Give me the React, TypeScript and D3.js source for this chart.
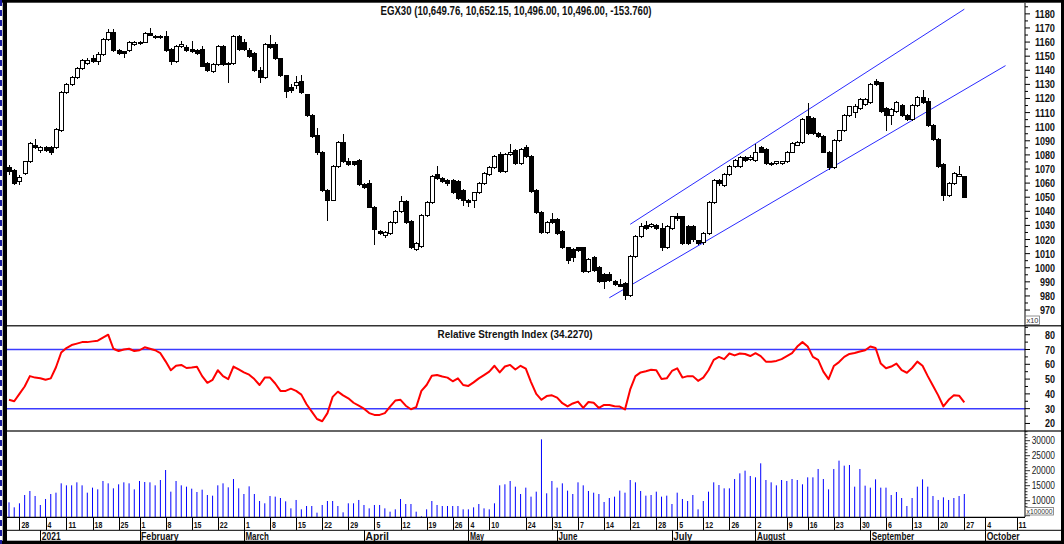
import React from "react";
import * as d3 from "d3";

// ---- Price data (index level / 10) ----
const openP = [1071,1069,1061,1067,1075,1087,1083,1085,1085,1085,1097,1124,1130,1135,1141,1145,1148,1146,1151,1162,1167,1154,1153,1154,1158,1159,1160,1166,1164,1164,1164,1155,1146,1157,1156,1155,1154,1155,1145,1139,1144,1157,1145,1145,1164,1160,1154,1152,1140,1135,1158,1158,1148,1136,1128,1129,1132,1123,1108,1094,1082,1055,1048,1072,1089,1075,1075,1076,1059,1060,1043,1026,1023,1024,1032,1040,1047,1033,1013,1015,1037,1046,1066,1063,1062,1062,1061,1055,1048,1048,1053,1060,1066,1071,1080,1068,1080,1083,1074,1085,1079,1055,1039,1025,1034,1034,1026,1014,1013,1014,1014,997,1007,1000,995,995,990,988,989,980,1008,1022,1030,1029,1030,1028,1014,1028,1036,1036,1029,1029,1019,1018,1024,1046,1062,1058,1066,1072,1072,1078,1077,1076,1085,1084,1074,1074,1074,1075,1082,1087,1089,1107,1106,1095,1093,1082,1071,1090,1097,1108,1110,1113,1116,1117,1132,1131,1113,1108,1111,1115,1108,1105,1115,1121,1118,1101,1091,1073,1051,1060,1065,1064.98];
const highP = [1073,1070,1066,1076,1089,1091,1086,1086,1086,1099,1125,1131,1136,1142,1148,1149,1151,1153,1163,1169,1169,1155,1154,1161,1161,1161,1167,1170,1165,1165,1168,1156,1158,1161,1158,1161,1155,1157,1146,1145,1158,1158,1146,1165,1165,1162,1156,1153,1142,1159,1165,1160,1149,1137,1130,1136,1137,1123,1109,1099,1083,1056,1073,1090,1095,1078,1076,1077,1060,1062,1044,1027,1026,1033,1041,1051,1048,1034,1018,1038,1047,1066,1072,1064,1063,1063,1062,1056,1049,1054,1061,1068,1072,1080,1082,1081,1088,1084,1085,1087,1080,1056,1040,1033,1039,1035,1027,1015,1014,1015,1015,1007,1008,1001,996,997,991,992,990,1009,1023,1032,1033,1032,1031,1032,1030,1037,1039,1037,1030,1030,1020,1025,1047,1063,1063,1067,1073,1077,1079,1079,1080,1088,1086,1085,1075,1076,1076,1083,1089,1090,1106,1117,1107,1096,1094,1083,1091,1098,1109,1115,1116,1120,1120,1131,1134,1132,1114,1113,1118,1116,1109,1116,1122,1126,1120,1102,1092,1074,1061,1068,1072,1065.22];
const lowP = [1066,1059,1059,1066,1074,1084,1081,1082,1080,1084,1096,1123,1129,1134,1140,1144,1145,1144,1150,1161,1153,1151,1149,1153,1157,1158,1159,1164,1162,1162,1153,1144,1145,1156,1153,1152,1151,1142,1139,1138,1143,1143,1131,1144,1154,1154,1149,1139,1131,1134,1155,1147,1135,1120,1124,1127,1123,1107,1092,1080,1054,1033,1047,1071,1074,1072,1072,1058,1056,1042,1016,1023,1021,1023,1031,1039,1031,1013,1012,1014,1036,1045,1062,1060,1058,1052,1048,1044,1043,1042,1052,1059,1065,1070,1067,1067,1079,1073,1073,1078,1053,1038,1024,1024,1031,1023,1013,1003,1004,1011,996,996,997,989,985,990,987,986,977,979,1007,1021,1027,1028,1027,1012,1013,1027,1033,1016,1016,1018,1016,1016,1023,1045,1058,1057,1065,1071,1071,1075,1076,1075,1081,1073,1072,1073,1073,1074,1081,1086,1088,1094,1094,1092,1081,1069,1070,1089,1096,1107,1106,1112,1115,1116,1129,1110,1097,1101,1110,1107,1104,1104,1114,1116,1100,1090,1071,1047,1050,1059,1064,1049.6];
const closeP = [1068,1060,1064,1075,1088,1085,1085,1083,1082,1098,1124,1130,1135,1141,1147,1147,1146,1151,1162,1167,1154,1152,1152,1160,1160,1160,1166,1165,1163,1163,1154,1146,1157,1158,1154,1153,1152,1143,1140,1144,1157,1144,1144,1164,1155,1155,1150,1140,1135,1158,1156,1148,1136,1125,1126,1131,1124,1108,1093,1082,1055,1048,1072,1089,1075,1073,1073,1059,1057,1043,1027,1024,1025,1032,1040,1047,1032,1014,1017,1037,1046,1065,1063,1061,1060,1053,1049,1048,1046,1053,1060,1067,1071,1079,1068,1080,1082,1074,1084,1079,1054,1039,1025,1032,1032,1024,1014,1005,1007,1012,997,1006,998,990,990,991,988,987,980,1008,1022,1029,1028,1031,1028,1014,1029,1036,1035,1017,1017,1020,1017,1024,1046,1062,1060,1066,1072,1076,1078,1076,1078,1082,1082,1074,1073,1075,1075,1082,1088,1089,1105,1095,1095,1093,1082,1071,1090,1097,1108,1114,1114,1119,1119,1130,1130,1111,1108,1112,1117,1108,1105,1115,1121,1117,1101,1091,1072,1051,1060,1067,1066,1049.6];

// ---- RSI (14) ----
const rsi = [36,35,40,45,52,51,50.6,49.5,50.5,58,68,71,73,74,75,75,75.5,76,78,80,70.5,69,70,70.5,69,69.5,71.5,70.5,69.5,67.5,62,56,59,59.6,57.5,57.8,58.3,52,47.5,49.5,56,52,50,58.5,56.5,54.5,53,50,46,51,51,47,42,42,43.5,42,39.5,33,28,23,21.5,27,38,41.5,39,37,34,32,30,27,25.8,25.8,27,31.4,35.5,36,32,29.6,31,42,46,52.2,52.8,51.7,51,48.5,50.5,46,45.4,47.8,50.5,52.7,55,59,54.5,58.5,59.6,56.5,59,57,48,40,36,38.5,39,37.5,33.7,31.5,33.5,34.8,30.5,34.5,34,30.5,32.5,32.5,31.6,31.4,29.5,43,52,54.5,55.3,56.3,56,50,50.5,55.5,57.3,51,52,52,48.8,51,56,63,65,63.5,67.3,66,67.3,67,65.6,67.5,65.5,61.8,61.8,62.3,63.5,65.5,67.5,72,75,72,65,63,55,50,58.8,61.5,65,67,67.6,68.6,69.5,72,71,60.5,57.3,58.5,60.5,56,54.3,57.5,61.8,59,52,45.5,39,31.5,36,39,38.8,34.227];
const rsiLevels = [70, 30];

// ---- Volume ----
const volume = [9455,7794,9130,11900,13237,11570,8570,10570,12233,12680,15790,15120,15120,16120,15120,12680,14350,13790,16570,15790,14120,15460,16120,15790,13790,16570,16230,16120,15120,16900,20230,13010,16570,15120,14680,14010,12900,13680,11900,11680,15120,15790,14460,17230,14120,12233,14790,12233,9900,9130,11570,11350,10900,9790,7450,10240,7120,8230,8230,6010,8570,9900,9900,8230,6120,9130,9130,10240,
8570,7450,8570,8570,7450,6340,7120,10570,8900,8900,6340,4800,7120,9900,8570,8230,8230,8230,8230,7120,7120,7790,8900,7450,7120,9130,15120,15460,16570,14680,12230,14350,11350,13010,30460,12460,16570,14350,15790,13350,12230,16120,15120,13240,12680,12230,9570,10900,11350,13350,12680,16900,16120,13240,11680,11900,13010,11350,11680,8900,12680,10570,9900,11900,7120,9900,13010,16120,15230,
14120,14120,17230,19120,20010,18240,17790,22460,16900,16120,15120,16900,16570,17230,16900,15460,17790,17790,20570,17230,13790,20570,23350,21680,21900,14680,20570,15010,14350,17120,14350,14350,11900,12900,10900,8230,10900,14680,17120,14680,11570,10240,11120,10240,10900,11570,12230];

// ---- Channel trend lines [bar index, price] ----
const channelUpper = [[119, 1030.8], [183, 1183.3]];
const channelLower = [[115, 978.7], [190.9, 1143.3]];

// ---- Axis ticks ----
const priceTicks = d3.range(970, 1181, 10);
const rsiTicks = [20, 30, 40, 50, 60, 70, 80];
const volTicks = [10000, 15000, 20000, 25000, 30000];
const dayLabels = ["28","4","11","18","25","1","8","15","22","1","8","15","22","29","5","12","19","26","4","10","24","31","7","14","21","28","5","12","26","2","9","16","23","30","6","13","20","27","4","11"];
const dayIdx = [2,7,11,16,21,25,30,35,40,45,50,55,60,65,70,75,80,85,88,92,99,104,109,114,119,124,128,133,138,143,149,153,158,163,168,173,178,183,187,193];
const monthLabels = ["2021","February","March","April","May","June","July","August","September","October"];
const monthIdx = [6,25,45,68,88,105,127,143,165,187];

const FONT = "'Liberation Sans', Arial, sans-serif";

function T({ x, y, s, w, size = 11, weight = "bold", anchor = "start", fill = "#111" }: any) {
  return (
    <text x={x} y={y} fontSize={size} fontWeight={weight} textAnchor={anchor} fill={fill}
      fontFamily={FONT} textLength={w} lengthAdjust="spacingAndGlyphs">{s}</text>
  );
}

export default function App() {
  const W = 1064, H = 544;
  const L = 7, R = 1025;
  const x = d3.scaleLinear().domain([0, 183]).range([9, 964.3]);
  const yP = d3.scaleLinear().domain([958.9, 1187.7]).range([325.7, 3]);
  const yR = d3.scaleLinear().domain([14.9, 86.1]).range([431, 325.7]);
  const yV = d3.scaleLinear().domain([4567, 33233]).range([517, 431]);

  const rsiLine = d3.line<number>().x((_, i) => x(i)).y((d) => yR(d)).curve(d3.curveLinear)(rsi) || "";
  const bw = 4;

  return (
    <svg width={W} height={H} style={{ position: "fixed", left: 0, top: 0, background: "#fff" }}>
      <rect x={0} y={0} width={W} height={H} fill="#fff" />
      {/* title */}
      <T x={516} y={15} s="EGX30 (10,649.76, 10,652.15, 10,496.00, 10,496.00, -153.760)" w={271} size={12} anchor="middle" />

      {/* channel lines */}
      {[channelUpper, channelLower].map((c, k) => (
        <line key={k} x1={x(c[0][0])} y1={yP(c[0][1])} x2={x(c[1][0])} y2={yP(c[1][1])} stroke="#2a2aff" strokeWidth={1} />
      ))}

      {/* candles */}
      <g shapeRendering="crispEdges">
        {closeP.map((c, i) => {
          const o = openP[i];
          const up = c >= o;
          const top = yP(Math.max(o, c));
          const bot = yP(Math.min(o, c));
          const cx = Math.round(x(i)) + 0.5;
          return (
            <g key={i}>
              <line x1={cx} x2={cx} y1={yP(highP[i])} y2={yP(lowP[i])} stroke="#000" strokeWidth={1} />
              <rect x={cx - bw / 2} y={top} width={bw} height={Math.max(1, bot - top)}
                fill={up ? "#fff" : "#000"} stroke="#000" strokeWidth={1} />
            </g>
          );
        })}
      </g>

      {/* panel separators */}
      <line x1={L} x2={W} y1={325.7} y2={325.7} stroke="#333" strokeWidth={1.5} />
      <line x1={L} x2={W} y1={431} y2={431} stroke="#333" strokeWidth={1.5} />

      {/* RSI */}
      <T x={515} y={338} s="Relative Strength Index (34.2270)" w={155} size={11} anchor="middle" />
      {rsiLevels.map((v) => (
        <line key={v} x1={L} x2={R} y1={yR(v)} y2={yR(v)} stroke="#3b3bff" strokeWidth={1.5} />
      ))}
      <path d={rsiLine} fill="none" stroke="#ff0000" strokeWidth={2} strokeLinejoin="round" />

      {/* Volume */}
      {volume.map((v, i) => (
        <line key={i} x1={x(i)} x2={x(i)} y1={517} y2={yV(v)} stroke="#0000ff" strokeWidth={1} />
      ))}

      {/* right axis */}
      <line x1={R} x2={R} y1={3} y2={517} stroke="#000" strokeWidth={1} />
      {d3.range(965, 1186, 5).map((v) => (
        <line key={"pt" + v} x1={R} x2={R + (v % 10 === 0 ? 5 : 3)} y1={yP(v)} y2={yP(v)} stroke="#000" />
      ))}
      {priceTicks.map((v) => (
        <T key={"pl" + v} x={1055} y={yP(v) + 4} s={String(v)} w={String(v).length * 5} size={11} anchor="end" />
      ))}
      <rect x={1025.5} y={316} width={14} height={8.5} fill="#fff" stroke="#777" strokeWidth={0.8} />
      <T x={1026.5} y={323} s="x10" w={12} size={8} weight="normal" fill="#333" />

      {d3.range(20, 86, 5).map((v) => (
        <line key={"rt" + v} x1={R} x2={R + (v % 10 === 0 ? 5 : 3)} y1={yR(v)} y2={yR(v)} stroke="#000" />
      ))}
      {rsiTicks.map((v) => (
        <T key={"rl" + v} x={1055} y={yR(v) + 4} s={String(v)} w={10} size={11} anchor="end" />
      ))}

      {d3.range(5000, 33001, 1000).map((v) => (
        <line key={"vt" + v} x1={R} x2={R + (v % 5000 === 0 ? 5 : 2.5)} y1={yV(v)} y2={yV(v)} stroke="#000" strokeWidth={0.8} />
      ))}
      {volTicks.map((v) => (
        <T key={"vl" + v} x={1055} y={yV(v) + 3.5} s={String(v)} w={23.3} size={10} weight="normal" anchor="end" fill="#222" />
      ))}
      <rect x={1025.5} y={507.5} width={28} height={7.5} fill="#fff" stroke="#777" strokeWidth={0.8} />
      <T x={1026.5} y={514} s="x100000" w={26} size={7} weight="normal" fill="#333" />

      {/* x axis */}
      <line x1={L} x2={R} y1={517.3} y2={517.3} stroke="#000" strokeWidth={1.2} />
      <line x1={L} x2={1061} y1={530.3} y2={530.3} stroke="#000" strokeWidth={1} />
      {dayIdx.map((d, k) => (
        <g key={"d" + k}>
          <line x1={Math.round(x(d)) + 0.5} x2={Math.round(x(d)) + 0.5} y1={517} y2={530} stroke="#000" />
          <T x={x(d) + 2} y={528} s={dayLabels[k]} w={dayLabels[k].length * 3.9} size={9.5} />
        </g>
      ))}
      {monthIdx.map((d, k) => (
        <g key={"m" + k}>
          <line x1={Math.round(x(d)) + 0.5} x2={Math.round(x(d)) + 0.5} y1={530} y2={541} stroke="#000" />
          <T x={x(d) + 1.5} y={539.5} s={monthLabels[k]} w={monthLabels[k].length * 4.7} size={10} />
        </g>
      ))}

      {/* frame */}
      <rect x={2.7} y={0} width={4.3} height={H} fill="#000" />
      <rect x={0} y={0} width={W} height={2.7} fill="#000" />
      <rect x={1061} y={0} width={3} height={H} fill="#000" />
      <rect x={0} y={540.7} width={W} height={3.3} fill="#000" />
      <line x1={1} x2={1} y1={0} y2={H} stroke="#1a1aa0" strokeWidth={2} strokeDasharray="6,4" />
    </svg>
  );
}
